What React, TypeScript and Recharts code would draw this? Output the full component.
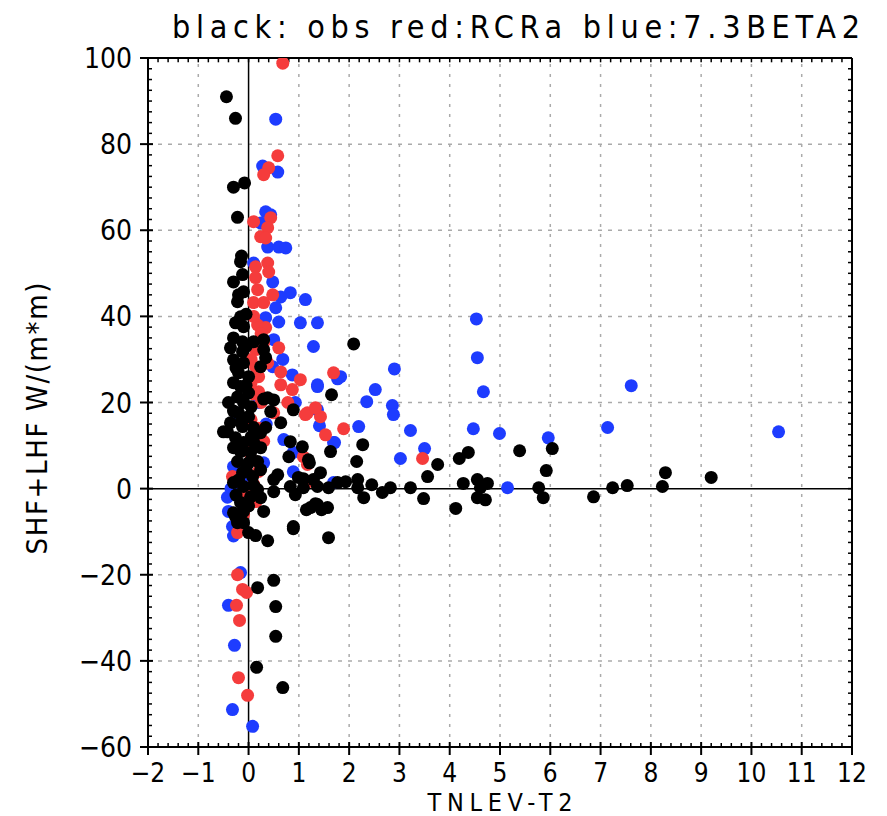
import React from 'react';
import { ScatterChart, Scatter, XAxis, YAxis, ReferenceLine, Label } from 'recharts';

// axis ticks
const xMajorTicks = [-2, -1, 0, 1, 2, 3, 4, 5, 6, 7, 8, 9, 10, 11, 12];
const yMajorTicks = [-60, -40, -20, 0, 20, 40, 60, 80, 100];

const titleText = 'black: obs red:RCRa blue:7.3BETA2';
const xAxisTitle = 'TNLEV-T2';
const yAxisTitle = 'SHF+LHF W/(m*m)';

// blue: 7.3BETA2
const betaPoints: [number, number][] = [
  [0.54, 85.8], [0.28, 74.9], [0.58, 73.5], [0.34, 64.3], [0.44, 63.6], [0.24, 61.7],
  [0.38, 56.1], [0.6, 56.1], [0.74, 55.9], [0.1, 52.4], [0.48, 48], [0.83, 45.5],
  [1.13, 43.9], [0.64, 44.5], [0.54, 42], [0.34, 39.7], [0.6, 38.7], [1.03, 38.5],
  [1.37, 38.5], [1.29, 33], [0.5, 34.6], [0.48, 28.3], [0.87, 26.4], [1.83, 26],
  [2.9, 27.8], [4.53, 39.4], [4.55, 30.4], [4.67, 22.5], [2.52, 23], [2.35, 20.2],
  [2.86, 19.3], [2.88, 17.2], [1.77, 25.5], [1.37, 23.7], [1.41, 14.6], [2.19, 14.4],
  [3.22, 13.5], [4.47, 13.9], [4.99, 12.8], [5.96, 11.8], [1.71, 10.7], [3.5, 9.3],
  [3.02, 7.0], [5.15, 0.2], [7.61, 23.9], [7.14, 14.2], [10.54, 13.2], [1.37, 24.1],
  [1.37, 18.3], [1.69, 10.7], [0.89, 8.4], [0.7, 11.4], [0.89, 3.9], [1.69, 1.4],
  [0.93, 20], [0.68, 30], [0.2, 20], [0.15, 12], [0.3, 6], [0.0, 2], [0.2, -2], [0.35, 15],
  [-0.16, -19.5], [-0.4, -27.1], [-0.28, -36.4], [-0.32, -51.3], [0.08, -55.2],
  [-0.42, -2], [-0.4, -5.3], [-0.32, -8.8], [-0.3, 5.1], [-0.26, 17.6], [-0.35, 0], [-0.3, -11],
];

// red: RCRa
const rcraPoints: [number, number][] = [
  [0.68, 98.8], [0.58, 77.3], [0.4, 74.5], [0.3, 72.9], [0.1, 62], [0.44, 62.9],
  [0.38, 60.6], [0.24, 58.5], [0.34, 58.2], [0.14, 51.5], [0.38, 52.4], [0.4, 50.3],
  [0.14, 49], [0.48, 45], [0.18, 46.2], [0.1, 43.2], [0.3, 43.2], [0.18, 38],
  [0.34, 37.4], [0.3, 33.9], [0.14, 32.3], [0.6, 32.7], [0.14, 28.3], [0.38, 29.2],
  [0.64, 27.1], [1.69, 26.9], [1.03, 25.3], [0.87, 23], [0.64, 24.1], [1.17, 17.6],
  [1.43, 16.7], [1.13, 17.2], [1.33, 18.8], [1.53, 12.5], [1.89, 13.9], [1.09, 7.4],
  [1.17, 5.6], [1.19, 1.6], [0.78, 20], [0.5, 17.6], [3.46, 7.0],
  [0.1, 40], [0.25, 36], [0.05, 30], [0.2, 26], [0.1, 22], [0.25, 20], [0.05, 16],
  [0.2, 14], [0.1, 10], [0.3, 11], [0.05, 7], [0.2, 4], [0.1, 1], [-0.05, -1],
  [0.15, -3], [-0.1, -6], [0.2, 22.5], [0.05, 24.5],
  [-0.32, 2.8], [-0.22, -10.2], [-0.22, -20], [-0.12, -23.4], [-0.04, -24.1],
  [-0.24, -27.1], [-0.18, -30.6], [-0.2, -43.9], [-0.02, -48],
];

// black: obs
const obsPoints: [number, number][] = [
  [-0.44, 91], [-0.26, 86], [-0.3, 70], [-0.08, 71], [-0.22, 63], [-0.14, 54], [-0.16, 52.7],
  [-0.12, 49.7], [-0.3, 48], [-0.1, 45.7], [-0.22, 43.4], [-0.16, 39.9], [-0.26, 38.5],
  [-0.1, 37.6], [-0.3, 35], [-0.12, 34.1], [0.1, 34.1], [0.3, 34.6], [-0.36, 32.7],
  [-0.12, 31.8], [0.3, 32.3], [0.34, 30.4], [-0.3, 29.9], [-0.1, 29.2], [0.24, 28.3],
  [-0.2, 26.9], [0, 26], [-0.3, 24.6], [-0.16, 23.7], [-0.22, 21.3], [0, 22.2], [-0.1, 20],
  [-0.2, 17.6], [0, 16.7], [-0.36, 15.3], [-0.12, 14.4], [-0.42, 13.2], [0.1, 14.2],
  [-0.26, 11.8], [-0.1, 10.7], [0.1, 10.9], [0.24, 13], [-0.16, 8.6], [0.04, 8.4],
  [0.24, 9.5], [-0.22, 6.3], [0, 6], [0.18, 6.3], [-0.12, 3.7], [0.08, 2.8], [0.24, 4.4],
  [-0.3, 1.4], [-0.1, 0.5], [0.18, -0.2], [0.04, -1.9], [-0.16, -3.2], [0.24, -2.1],
  [-0.1, -5.3], [-0.26, -6.5], [-0.1, -7.9], [-0.5, 13.2], [-0.4, 20], [-0.3, -5.6], [-0.22, -7.9],
  [-0.05, 40.5], [-0.2, 45], [-0.05, 33], [-0.25, 28], [-0.05, 24], [0.05, 19], [-0.3, 18],
  [-0.15, 15.5], [0.05, 12], [-0.3, 9.5], [-0.05, 4.5], [-0.2, 2], [0.1, 0.8], [-0.25, -1.5], [0, -4],
  [0.38, 21.1], [0.5, 20.6], [0.3, 20.8], [0.44, 17.9], [0.64, 15.3], [0.89, 18.3],
  [0.34, 14.2], [0.83, 10.9], [1.07, 9.7], [0.8, 7.4], [1.19, 6.7], [1.43, 3.7], [1.63, 8.6],
  [0.58, 3.2], [0.5, 2.1], [0.99, 2.6], [0.83, 0.5], [1.09, 0.2], [1.37, 0.5], [1.77, 1.4],
  [1.93, 1.6], [0.5, -0.7], [0.93, -1.4], [1.23, -4.4], [1.37, -3.7], [1.57, -4.4],
  [0.3, -5.3], [0.89, -8.8], [1.65, 21.8], [2.09, 33.6], [2.27, 10.2], [2.15, 6.3],
  [1.21, 6.0], [1.09, 2.3], [1.29, 2.1], [1.59, 0.2], [2.17, 2.1], [2.17, 0.2], [2.29, -2.1],
  [2.45, 0.9], [2.66, -0.9], [2.82, 0.2], [3.22, 0.2], [3.48, -2.3], [3.56, 2.8], [3.76, 5.6],
  [4.19, 7.0], [4.37, 8.4], [4.27, 1.2], [4.55, 2.1], [4.61, 0.2], [4.75, 1.2], [4.55, -2.1],
  [4.71, -2.6], [4.12, -4.6], [1.15, -4.9], [1.33, -3.5], [1.45, -4.9], [5.39, 8.8],
  [6.04, 9.3], [5.92, 4.2], [5.77, 0.2], [5.86, -2.1], [6.86, -1.9], [7.24, 0.2], [7.53, 0.7],
  [8.23, 0.5], [8.29, 3.7], [9.2, 2.6],
  [0, -10.2], [0.14, -10.9], [0.38, -12.1], [1.59, -11.4], [0.89, -9.3], [0.5, -21.3],
  [0.18, -23], [0.54, -27.4], [0.54, -34.3], [0.16, -41.5], [0.68, -46.2],
];

const FONT = "'DejaVu Sans Condensed', 'DejaVu Sans', sans-serif";

// minor ticks on the frame
const xTicks: number[] = [];
for (let i = -20; i <= 120; i += 2) xTicks.push(i / 10);
const yTicks: number[] = [];
for (let i = -60; i <= 100; i += 2.5) yTicks.push(i);

const fmt = (v: number) => (v < 0 ? '\u2212' + Math.abs(v) : String(v));
const isMajorX = (v: number) => Math.abs(v - Math.round(v)) < 1e-6;
const isMajorY = (v: number) => Math.abs(v % 20) < 1e-6;

const toXY = (pts: [number, number][]) => pts.map(([x, y]) => ({ x, y }));

const dot = (color: string) => (p: any) => <circle cx={p.cx} cy={p.cy} r={6.5} fill={color} />;

const BottomTick = (props: any) => {
  const { x, y, payload } = props;
  const v = payload.value;
  if (isMajorX(v)) {
    return (
      <g>
        <line x1={x} x2={x} y1={y - 5} y2={y + 8} stroke="#000" strokeWidth={2} />
        <text x={x} y={y + 35} textAnchor="middle" fontSize={26} fontFamily={FONT} fill="#000">{fmt(v)}</text>
      </g>
    );
  }
  return <line x1={x} x2={x} y1={y} y2={y - 4} stroke="#000" strokeWidth={1.5} />;
};

const LeftTick = (props: any) => {
  const { x, y, payload } = props;
  const v = payload.value;
  if (isMajorY(v)) {
    return (
      <g>
        <line x1={x - 8} x2={x + 5} y1={y} y2={y} stroke="#000" strokeWidth={2} />
        <text x={x - 16} y={y + 10} textAnchor="end" fontSize={28} fontFamily={FONT} fill="#000">{fmt(v)}</text>
      </g>
    );
  }
  return <line x1={x} x2={x + 4} y1={y} y2={y} stroke="#000" strokeWidth={1.5} />;
};

export default function App() {
  return (
    <div style={{ position: 'relative', width: 871, height: 808 }}>
      <svg width={871} height={48} style={{ position: 'absolute', left: 0, top: 0 }}>
        <text
          x={508}
          y={30}
          textAnchor="middle"
          fontSize={32}
          fontFamily={FONT}
          fill="#000"
          textLength={688}
          lengthAdjust="spacing"
        >
          {titleText}
        </text>
      </svg>
      <ScatterChart width={871} height={808} margin={{ top: 50, right: 27, bottom: 9, left: 60 }}>
        <XAxis
          type="number"
          dataKey="x"
          domain={[-2, 12]}
          ticks={xTicks}
          interval={0}
          allowDataOverflow
          height={60}
          tickLine={false}
          tickSize={0}
          tickMargin={0}
          tick={<BottomTick />}
          axisLine={{ stroke: '#000', strokeWidth: 2 }}
        >
          <Label
            content={(p: any) => (
              <text
                x={p.viewBox.x + p.viewBox.width / 2}
                y={p.viewBox.y + 64}
                textAnchor="middle"
                fontSize={25}
                fontFamily={FONT}
                fill="#000"
                textLength={145}
                lengthAdjust="spacing"
              >
                {xAxisTitle}
              </text>
            )}
          />
        </XAxis>
        <YAxis
          type="number"
          dataKey="y"
          domain={[-60, 100]}
          ticks={yTicks}
          interval={0}
          allowDataOverflow
          width={80}
          tickLine={false}
          tickSize={0}
          tickMargin={0}
          tick={<LeftTick />}
          axisLine={{ stroke: '#000', strokeWidth: 2 }}
        >
          <Label
            content={(p: any) => {
              const cx = 39;
              const cy = p.viewBox.y + p.viewBox.height / 2 + 16;
              return (
                <text
                  x={cx}
                  y={cy}
                  transform={`rotate(-90 ${cx} ${cy})`}
                  textAnchor="middle"
                  fontSize={29}
                  fontFamily={FONT}
                  fill="#000"
                  textLength={272}
                  lengthAdjust="spacing"
                >
                  {yAxisTitle}
                </text>
              );
            }}
          />
        </YAxis>

        {xMajorTicks.filter((v) => v !== 0 && v !== -2 && v !== 12).map((v) => (
          <ReferenceLine key={'gx' + v} x={v} stroke="#aaa" strokeWidth={1.5} strokeDasharray="3 7" />
        ))}
        {yMajorTicks.filter((v) => v !== 0 && v !== -60 && v !== 100).map((v) => (
          <ReferenceLine key={'gy' + v} y={v} stroke="#aaa" strokeWidth={1.5} strokeDasharray="4 6" />
        ))}
        <ReferenceLine x={0} stroke="#000" strokeWidth={1.5} />
        <ReferenceLine y={0} stroke="#000" strokeWidth={1.5} />

        {/* frame: top and right edges with small inward ticks */}
        <ReferenceLine x={12} stroke="#000" strokeWidth={2} />
        <ReferenceLine y={100} stroke="#000" strokeWidth={2} />
        {xTicks.map((v) => (
          <ReferenceLine key={'tt' + v} segment={[{ x: v, y: 100 }, { x: v, y: 99 }]} stroke="#000" strokeWidth={1.5} />
        ))}
        {yTicks.map((v) => (
          <ReferenceLine key={'rt' + v} segment={[{ x: 12, y: v }, { x: 11.92, y: v }]} stroke="#000" strokeWidth={1.5} />
        ))}

        <Scatter name="7.3BETA2" data={toXY(betaPoints)} fill="#1e3cff" shape={dot('#1e3cff')} isAnimationActive={false} />
        <Scatter name="RCRa" data={toXY(rcraPoints)} fill="#f53c3c" shape={dot('#f53c3c')} isAnimationActive={false} />
        <Scatter name="obs" data={toXY(obsPoints)} fill="#000" shape={dot('#000')} isAnimationActive={false} />
      </ScatterChart>
    </div>
  );
}
